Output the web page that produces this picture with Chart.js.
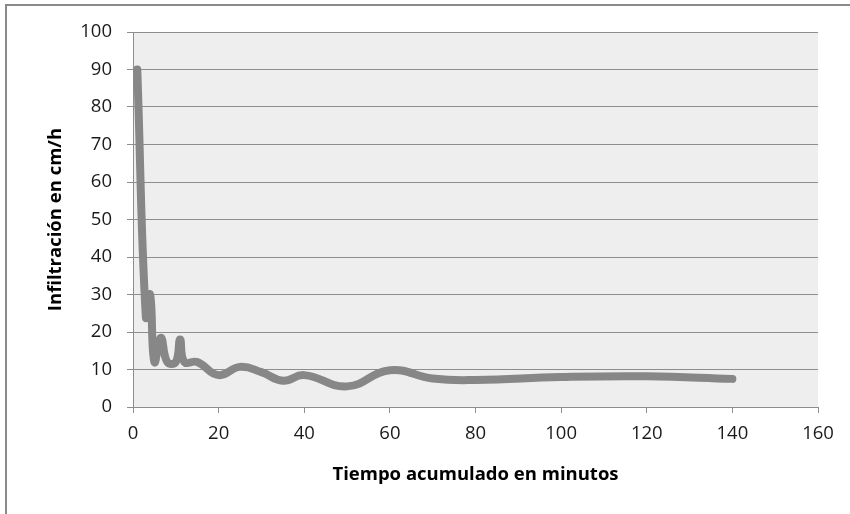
<!DOCTYPE html>
<html>
<head>
<meta charset="utf-8">
<script src="https://cdn.jsdelivr.net/npm/chart.js@4"></script>
<style>
  html, body { margin: 0; padding: 0; background: white; }
  #wrap { width: 850px; height: 514px; }
</style>
</head>
<body>
<div id="wrap"><canvas id="chart" width="850" height="514"></canvas></div>
<script>
// datos
const tiempo = [1, 3, 4, 5, 6.5, 8, 10, 11, 12, 15, 20, 25, 30, 35, 40, 50, 60, 70, 80, 100, 120, 140];
const infiltracion = [90, 24, 30, 12, 18.5, 12, 12, 18, 12, 12, 8.5, 10.7, 9.3, 7, 8.5, 5.5, 9.8, 7.6, 7.2, 8, 8.2, 7.5];
const xTicks = [0, 20, 40, 60, 80, 100, 120, 140, 160];
const yTicks = [0, 10, 20, 30, 40, 50, 60, 70, 80, 90, 100];

const textcolor = '#1a1a1a';
const gridcolor = '#8e8e8e';
const linecolor = '#878787';
const fontfamily = '"Open Sans", sans-serif';

const points = tiempo.map((t, i) => ({ x: t, y: infiltracion[i] }));

new Chart(document.getElementById('chart').getContext('2d'), {
  type: 'line',
  data: {
    datasets: [
      {
        data: points,
        borderColor: linecolor,
        borderWidth: 8,
        borderCapStyle: 'round',
        borderJoinStyle: 'round',
        pointRadius: 0,
        tension: 0.45,
        fill: false,
      },
    ],
  },
  options: {
    responsive: false,
    animation: false,
    layout: {
      padding: { top: 32, right: 32, bottom: 26, left: 38 },
    },
    plugins: {
      legend: { display: false },
      tooltip: { enabled: false },
    },
    scales: {
      x: {
        type: 'linear',
        min: 0,
        max: 160,
        afterBuildTicks: (scale) => { scale.ticks = xTicks.map(v => ({ value: v })); },
        afterFit: (scale) => { scale.height = 81; },
        ticks: {
          font: { size: 18.5, family: fontfamily },
          color: textcolor,
          padding: 10,
          maxRotation: 0,
        },
        grid: {
          drawOnChartArea: false,
          color: gridcolor,
          tickLength: 6,
        },
        border: { color: gridcolor, width: 1 },
        title: {
          display: true,
          text: 'Tiempo acumulado en minutos',
          font: { size: 18.5, weight: 'bold', family: fontfamily },
          color: '#000',
          padding: { top: 0, bottom: 2 },
        },
      },
      y: {
        type: 'linear',
        min: 0,
        max: 100,
        afterBuildTicks: (scale) => { scale.ticks = yTicks.map(v => ({ value: v })); },
        afterFit: (scale) => { scale.width = 95; },
        ticks: {
          font: { size: 18.5, family: fontfamily },
          color: textcolor,
          padding: 15,
        },
        grid: {
          color: gridcolor,
          tickLength: 6,
        },
        border: { color: gridcolor, width: 1 },
        title: {
          display: true,
          text: 'Infiltración en cm/h',
          font: { size: 18.5, weight: 'bold', family: fontfamily },
          color: '#000',
          padding: { top: 7, bottom: 0 },
        },
      },
    },
  },
  plugins: [
    {
      beforeDraw: (chart) => {
        const ctx = chart.ctx;
        const area = chart.chartArea;
        ctx.save();
        ctx.fillStyle = '#eeeeee';
        ctx.fillRect(area.left, area.top, area.width, area.height);
        // marco exterior del grafico
        ctx.strokeStyle = '#8a8a8a';
        ctx.lineWidth = 2;
        ctx.strokeRect(6, 5, 900, 600);
        ctx.restore();
      },
    },
  ],
});
</script>
</body>
</html>
